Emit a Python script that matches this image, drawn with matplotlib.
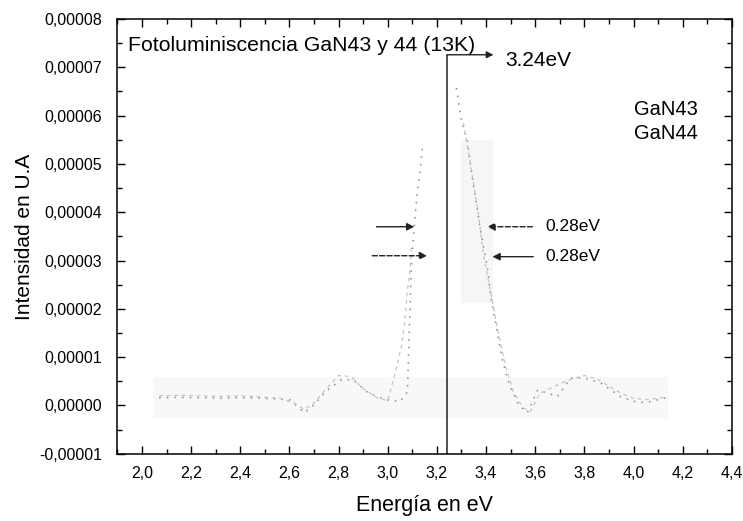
"""
Fotoluminiscencia GaN43 / GaN44 a 13K, replotted from a scanned figure.
"""

import numpy as np
import matplotlib
matplotlib.use('Agg')
import matplotlib.pyplot as plt
from matplotlib.ticker import MultipleLocator, FuncFormatter

plt.rcParams['font.family'] = ['Liberation Sans', 'DejaVu Sans']

# ── Data (intensity in units of 1e-5) ────────────────────────────────────────
E_43 = [2.07, 2.15, 2.24, 2.32, 2.40, 2.48, 2.52, 2.60, 2.64, 2.66, 2.70,
        2.745, 2.81, 2.86, 2.92, 2.99, 3.05, 3.08, 3.096, 3.112, 3.12,
        3.133, 3.141, np.nan, 3.279, 3.30, 3.324, 3.345, 3.361, 3.377,
        3.39, 3.405, 3.42, 3.462, 3.479, 3.495, 3.532, 3.568, 3.61, 3.65,
        3.69, 3.744, 3.797, 3.866, 3.948, 4.017, 4.07, 4.131]
I_43 = [0.16, 0.17, 0.16, 0.15, 0.16, 0.15, 0.14, 0.12, -0.05, -0.15, 0.01,
        0.28, 0.53, 0.53, 0.26, 0.12, 0.08, 0.28, 2.9, 3.97, 4.40,
        4.94, 5.33, np.nan, 6.57, 5.90, 5.46, 4.67, 4.19, 3.63,
        3.28, 2.87, 2.23, 1.05, 0.70, 0.43, 0.01, -0.15, 0.32, 0.26,
        0.18, 0.57, 0.57, 0.47, 0.18, 0.06, 0.08, 0.16]

E_44 = [2.07, 2.15, 2.24, 2.32, 2.40, 2.48, 2.56, 2.62, 2.66, 2.70, 2.75,
        2.80, 2.85, 2.90, 2.96, 3.00, 3.03, 3.055, 3.07, 3.08, 3.088,
        3.096, np.nan, 3.308, 3.332, 3.369, 3.39, 3.42, 3.45, 3.48, 3.51,
        3.55, 3.58, 3.62, 3.66, 3.70, 3.75, 3.80, 3.85, 3.90, 3.95, 4.00,
        4.05, 4.10, 4.14]
I_44 = [0.20, 0.21, 0.20, 0.19, 0.20, 0.18, 0.15, 0.05, -0.08, 0.05, 0.35,
        0.62, 0.60, 0.35, 0.15, 0.10, 0.66, 1.21, 1.77, 2.39, 2.66,
        3.26, np.nan, 5.85, 5.15, 3.95, 3.10, 2.30, 1.50, 0.80, 0.30,
        -0.05, -0.12, 0.25, 0.35, 0.45, 0.55, 0.62, 0.55, 0.40, 0.25, 0.15,
        0.12, 0.15, 0.18]

E_peak = 3.24
I_peak_top = 7.26

# half-width arrows: (x_tail, x_head, y)
fwhm_left = [(2.954, 3.108, 3.70), (2.937, 3.160, 3.10)]
fwhm_right = [(3.589, 3.405, 3.70), (3.592, 3.426, 3.08)]

scale = 1e-5

fig, ax = plt.subplots(figsize=(7.43, 5.21), dpi=100)
fig.subplots_adjust(left=0.158, right=0.985, bottom=0.129, top=0.9635)

# faint scan shading
ax.axhspan(-0.276 * scale, 0.593 * scale, xmin=(2.045 - 1.9) / 2.5,
           xmax=(4.14 - 1.9) / 2.5, color='#f8f8f8', lw=0, zorder=0)
ax.axhspan(2.12 * scale, 5.5 * scale, xmin=(3.30 - 1.9) / 2.5,
           xmax=(3.43 - 1.9) / 2.5, color='#f6f6f6', lw=0, zorder=0)

ax.plot(E_43, np.array(I_43) * scale, color='#8a8a8a', ls=(0, (1, 4)),
        lw=1.1, label='GaN43')
ax.plot(E_44, np.array(I_44) * scale, color='#c4c4c4', ls=(0, (3, 3)),
        lw=0.9, label='GaN44')

ax.vlines(E_peak, -1e-5, I_peak_top * scale, color='#333333', lw=1.2)
ax.annotate('', xy=(3.43, I_peak_top * scale), xytext=(E_peak, I_peak_top * scale),
            arrowprops=dict(arrowstyle='-|>', color='#222222', lw=1,
                            mutation_scale=10, shrinkA=0, shrinkB=0))
ax.text(3.479, 7.15 * scale, '3.24eV', fontsize=15, ha='left', va='center')

for (x0, x1, y), st in zip(fwhm_left, ['-', '--']):
    ax.annotate('', xy=(x1, y * scale), xytext=(x0, y * scale),
                arrowprops=dict(arrowstyle='-|>', color='#222222', lw=1,
                                ls=st, mutation_scale=11, shrinkA=0, shrinkB=0))
for (x0, x1, y), st in zip(fwhm_right, ['--', '-']):
    ax.annotate('', xy=(x1, y * scale), xytext=(x0, y * scale),
                arrowprops=dict(arrowstyle='-|>', color='#222222', lw=1,
                                ls=st, mutation_scale=11, shrinkA=0, shrinkB=0))
    ax.text(3.642, y * scale, '0.28eV', fontsize=12.5, ha='left', va='center')

ax.text(1.943, 7.46 * scale, 'Fotoluminiscencia GaN43 y 44 (13K)',
        fontsize=15.3, ha='left', va='center')

leg = ax.legend(loc='upper right', bbox_to_anchor=(0.975, 0.855),
                frameon=False, handlelength=0, handletextpad=0,
                fontsize=14.5, labelspacing=0.25)
for h in leg.legend_handles:
    h.set_visible(False)

ax.set_xlim(1.9, 4.4)
ax.set_ylim(-1e-5, 8e-5)
ax.xaxis.set_major_locator(MultipleLocator(0.2))
ax.xaxis.set_minor_locator(MultipleLocator(0.1))
ax.yaxis.set_major_locator(MultipleLocator(1e-5))
ax.yaxis.set_minor_locator(MultipleLocator(0.5e-5))
ax.xaxis.set_major_formatter(FuncFormatter(lambda v, p: f'{v:.1f}'.replace('.', ',')))
ax.yaxis.set_major_formatter(FuncFormatter(lambda v, p: f'{v:.5f}'.replace('.', ',')))
ax.tick_params(which='both', direction='in', top=True, right=True, width=1)
ax.tick_params(which='major', length=6, labelsize=11.5)
ax.tick_params(axis='x', which='major', pad=9)
ax.tick_params(axis='y', which='major', pad=11)
ax.tick_params(which='minor', length=3.5)
for s in ax.spines.values():
    s.set_linewidth(1.1)

ax.set_xlabel('Energía en eV', fontsize=15.5, labelpad=10)
ax.set_ylabel('Intensidad en U.A', fontsize=15, labelpad=4)

fig.savefig('out.png', dpi=100)
